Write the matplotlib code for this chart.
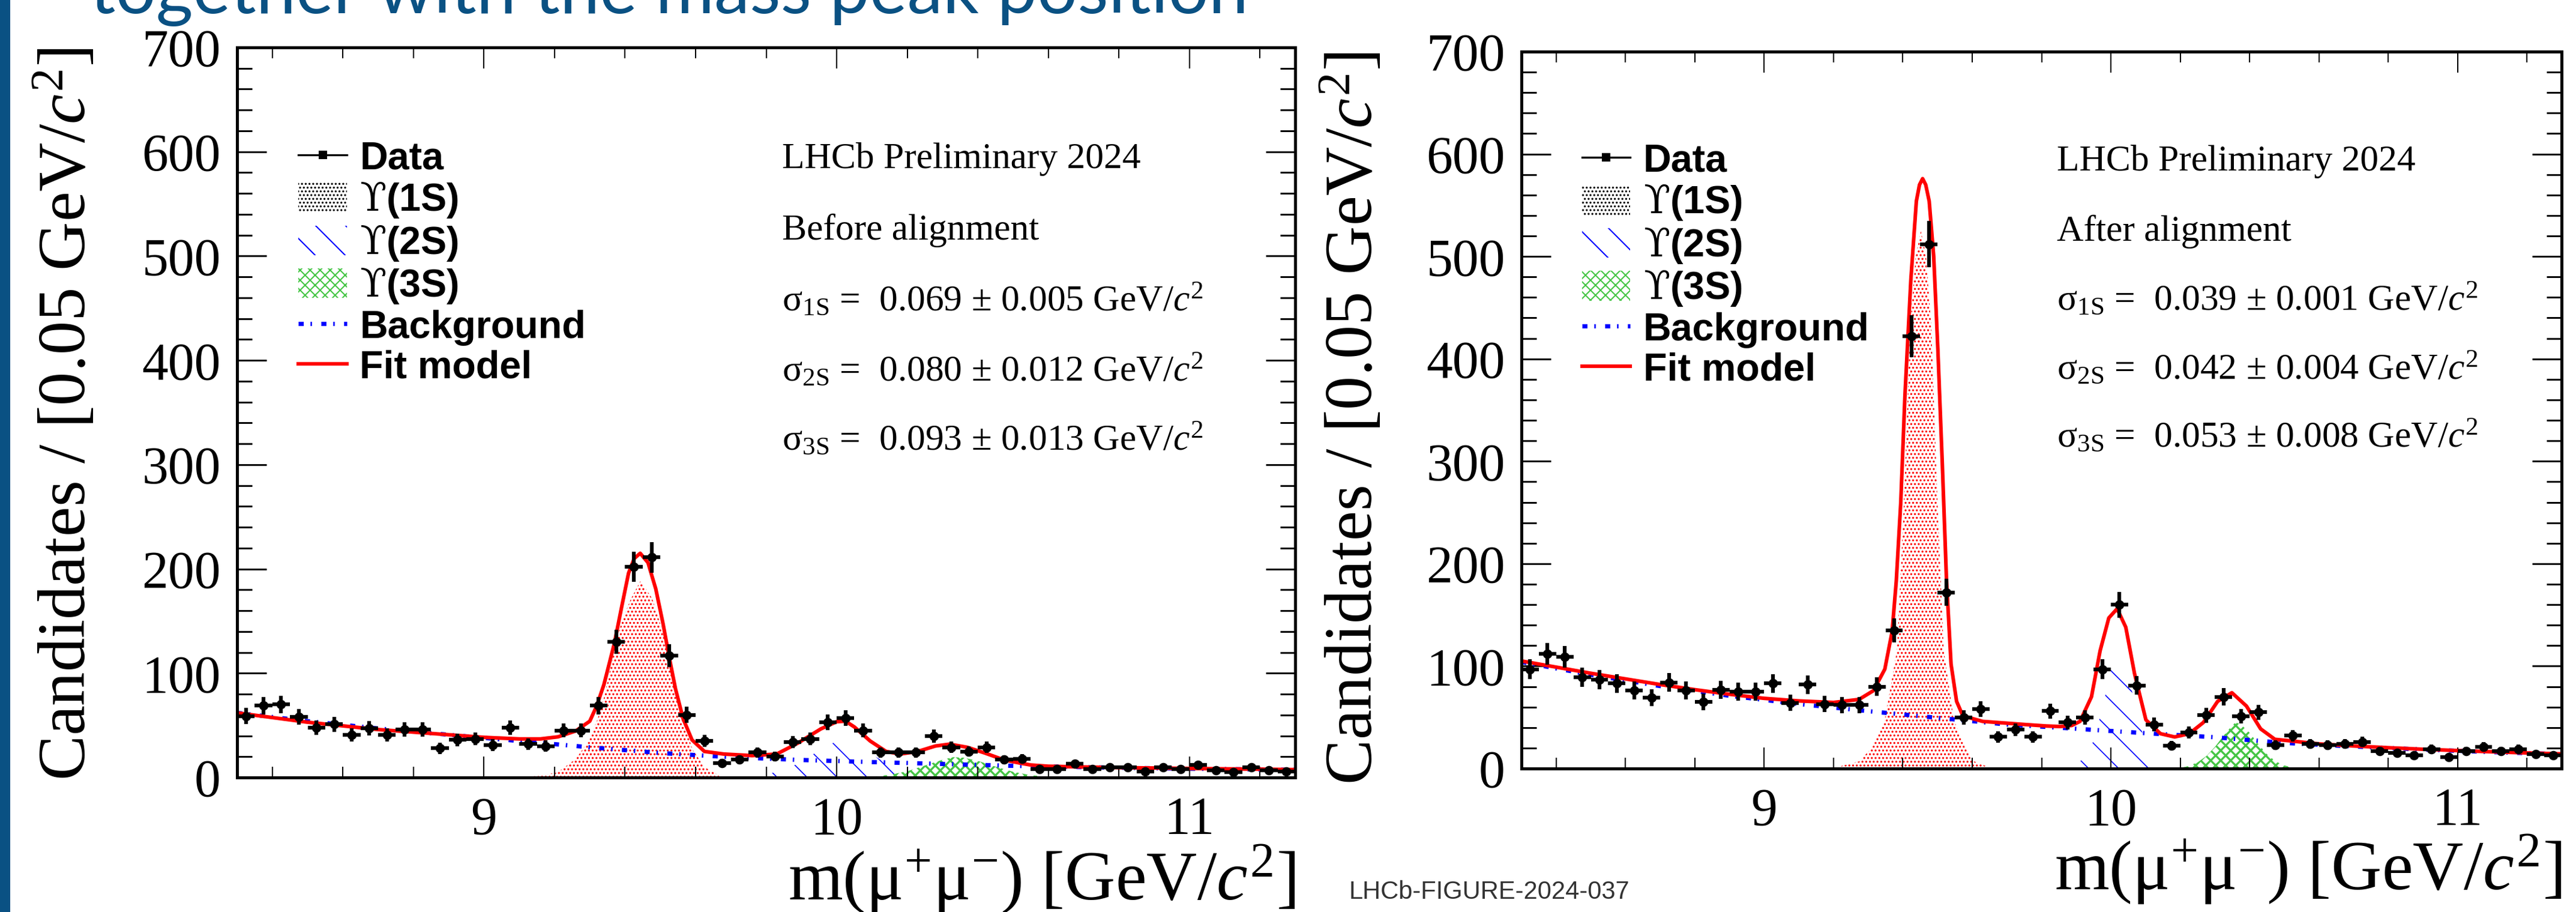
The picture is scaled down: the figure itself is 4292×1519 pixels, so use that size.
import numpy as np
import matplotlib
matplotlib.use('Agg')
import matplotlib.pyplot as plt
from matplotlib.lines import Line2D
from matplotlib.patches import Patch, Rectangle
from matplotlib.ticker import MultipleLocator

plt.rcParams['font.family'] = 'Liberation Serif'
plt.rcParams['mathtext.fontset'] = 'custom'
plt.rcParams['mathtext.rm'] = 'Liberation Serif'
plt.rcParams['mathtext.it'] = 'Liberation Serif:italic'
plt.rcParams['hatch.linewidth'] = 1.0

# ---- data ----
bin_centres = 8.3 + 0.05 * (np.arange(60) + 0.5)

counts_before = [59, 69, 70, 58, 48, 51, 41, 47, 41, 46,
                 46, 28, 36, 37, 31, 48, 32, 30, 45, 45,
                 69, 130, 202, 211, 117, 60, 35, 14, 17, 24,
                 20, 34, 37, 53, 57, 45, 24, 24, 24, 40,
                 29, 25, 29, 17, 18, 8, 8, 13, 8, 10,
                 10, 6, 10, 8, 12, 7, 5, 10, 7, 6]

counts_after = [97, 112, 109, 89, 87, 83, 76, 69, 84, 76,
                65, 77, 75, 75, 83, 64, 82, 63, 62, 62,
                80, 135, 422, 512, 172, 50, 58, 31, 38, 31,
                56, 45, 50, 97, 160, 81, 43, 22, 35, 52,
                70, 51, 55, 23, 32, 24, 23, 24, 26, 17,
                15, 13, 19, 11, 17, 21, 17, 19, 14, 13]

# fit model (before alignment)
fit_before_x = [8.30, 8.40, 8.50, 8.60, 8.70, 8.80, 8.90, 9.00, 9.10, 9.16,
                9.21, 9.26, 9.30, 9.32, 9.34, 9.37, 9.39, 9.41, 9.426, 9.443,
                9.465, 9.487, 9.508, 9.526, 9.543, 9.565, 9.59, 9.625, 9.68, 9.76,
                9.83, 9.89, 9.955, 10.0, 10.025, 10.05, 10.095, 10.14, 10.18, 10.23,
                10.28, 10.32, 10.37, 10.42, 10.475, 10.52, 10.55, 10.6, 10.7, 10.8,
                10.9, 11.0, 11.1, 11.2, 11.3]
fit_before_y = [62, 57.5, 53, 49.5, 46, 43.5, 41, 38.5, 37, 37,
                39, 44.6, 54, 69, 89, 129, 163, 196, 210, 215,
                206, 181, 147, 114, 85, 56, 36, 25, 22.5, 21,
                22.5, 33, 46.6, 53.5, 54, 48.5, 35, 25, 22.5, 25,
                30.2, 32, 29, 23.5, 16.8, 13.8, 12, 10.8, 10.1, 9.5,
                9.1, 8.7, 8.3, 8.0, 7.6]
bkg_before_x = [8.3, 8.5, 8.7, 8.9, 9.1, 9.3, 9.5, 9.7, 9.9, 10.1, 10.3, 10.5, 10.7, 10.9, 11.1, 11.3]
bkg_before_y = [62, 54, 47, 41, 35, 29, 23.5, 19.5, 16.8, 14.8, 13, 11.2, 9.9, 8.9, 8.1, 7.4]
s1_before_x = [9.0, 9.1, 9.157, 9.209, 9.261, 9.296, 9.322, 9.339, 9.352, 9.37, 9.391, 9.417,
               9.444, 9.477, 9.504, 9.521, 9.538, 9.556, 9.573, 9.591, 9.625, 9.669, 9.7]
s1_before_y = [0.2, 0.8, 1.5, 5, 18, 35, 56, 75, 94.6, 123.5, 150.4, 171.6,
               188.5, 171.6, 143, 120, 85, 66, 46.6, 27, 10, 1.4, 0]
s2_before_x = [9.75, 9.8, 9.85, 9.9, 9.95, 10.0, 10.02, 10.05, 10.1, 10.15, 10.2, 10.25, 10.3]
s2_before_y = [1, 3, 7, 15, 26, 35, 36, 33, 22, 12, 5, 1.5, 0.5]
s3_before_x = [10.1, 10.15, 10.2, 10.25, 10.3, 10.33, 10.36, 10.4, 10.45, 10.5, 10.55, 10.6]
s3_before_y = [0.8, 2.5, 6, 11.5, 17, 19.5, 19, 16, 10.5, 5.5, 2.2, 0.8]

# fit model (after alignment)
fit_after_x = [8.30, 8.40, 8.50, 8.60, 8.70, 8.80, 8.90, 9.00, 9.10, 9.20,
               9.274, 9.315, 9.348, 9.369, 9.381, 9.394, 9.406, 9.423, 9.439, 9.448,
               9.457, 9.466, 9.476, 9.489, 9.501, 9.514, 9.526, 9.539, 9.555, 9.571,
               9.588, 9.63, 9.69, 9.75, 9.814, 9.853, 9.887, 9.911, 9.944, 9.969,
               9.994, 10.018, 10.043, 10.068, 10.101, 10.143, 10.184, 10.226, 10.267, 10.308,
               10.349, 10.391, 10.432, 10.473, 10.518, 10.6, 10.7, 10.8, 10.9, 11.0,
               11.1, 11.2, 11.3]
fit_after_y = [105, 99, 93, 87.5, 82, 77, 72.5, 68.5, 66, 64.5,
               67.5, 76, 97, 133.6, 183, 260, 364, 477, 554, 570,
               576, 570, 554, 500, 409, 296, 183, 102, 65.6, 53,
               50, 46, 44.5, 43, 41.5, 41, 42, 46, 70, 115,
               147, 156, 138, 93, 47.5, 34, 30.8, 34, 45, 65.6,
               74, 61, 38.7, 28.5, 27, 24, 22, 20.3, 18.8, 17.5,
               16.3, 15.2, 14.3]
bkg_after_x = [8.3, 8.5, 8.7, 8.9, 9.1, 9.3, 9.5, 9.7, 9.9, 10.1, 10.3, 10.5, 10.7, 10.9, 11.1, 11.3]
bkg_after_y = [104, 91.5, 80.5, 71, 63, 56, 49.5, 43, 38.8, 34.5, 30.5, 25, 21.5, 18.5, 16, 14]
s1_after_x = [9.2, 9.274, 9.31, 9.348, 9.383, 9.402, 9.421, 9.437, 9.452, 9.467, 9.482,
              9.501, 9.518, 9.547, 9.58, 9.605, 9.65, 9.7]
s1_after_y = [0.5, 7, 20, 47.5, 115.5, 251, 432, 500, 525, 500, 432,
              251, 115.5, 47.5, 20, 7, 1, 0]
s2_after_x = [9.875, 9.9, 9.925, 9.95, 9.975, 10.0, 10.015, 10.03, 10.05, 10.075, 10.1, 10.125, 10.15, 10.175]
s2_after_y = [1, 4, 11, 27, 58, 97, 116, 113, 92, 54, 24, 8.5, 2.5, 0.5]
s3_after_x = [10.2, 10.225, 10.25, 10.275, 10.3, 10.325, 10.35, 10.36, 10.375, 10.4,
              10.425, 10.45, 10.475, 10.5, 10.525, 10.55]
s3_after_y = [0.5, 2.5, 6, 12, 21, 32, 42, 45, 43, 35, 24, 14, 7, 3, 1, 0]

sigma_before = ['0.069 ± 0.005', '0.080 ± 0.012', '0.093 ± 0.013']
sigma_after = ['0.039 ± 0.001', '0.042 ± 0.004', '0.053 ± 0.008']

slide_blue = '#0a5183'
green3s = '#45c545'
bkg_style = (0, (1.2, 1.6, 0.35, 2.2))

fig = plt.figure(figsize=(4292 / 150, 1519 / 150), dpi=150)
fig.add_artist(Rectangle((0, 0), 17 / 4292, 1, transform=fig.transFigure, color=slide_blue, lw=0))
fig.text(150 / 4292, 1 - 22 / 1519, 'together with the mass peak position', color=slide_blue,
         fontsize=57, family='Lato', va='baseline')
fig.text(2248 / 4292, 1 - 1497 / 1519, 'LHCb-FIGURE-2024-037', color='#333333',
         fontsize=20, family='Liberation Sans', va='baseline')


def hatched(ax, x, y, color, hatch, hlw):
    with plt.rc_context({'hatch.linewidth': hlw}):
        c = ax.fill_between(x, 0, y, facecolor='none', edgecolor=color, hatch=hatch, lw=0)
    if hasattr(c, 'set_hatch_linewidth'):
        c.set_hatch_linewidth(hlw)
    return c


def hatch_patch(color, hatch, hlw):
    with plt.rc_context({'hatch.linewidth': hlw}):
        p = Patch(facecolor='white', edgecolor=color, hatch=hatch, lw=0)
    if hasattr(p, 'set_hatch_linewidth'):
        p.set_hatch_linewidth(hlw)
    return p


def draw_panel(ax, counts, fit, bkg, s1, s2, s3, stage, sigmas):
    hatched(ax, s1[0], s1[1], 'red', '....', 1.0)
    hatched(ax, s2[0], s2[1], 'blue', '\\', 0.8)
    hatched(ax, s3[0], s3[1], green3s, 'xxx', 1.6)
    ax.plot(bkg[0], bkg[1], color='blue', lw=3.4, ls=bkg_style, dash_capstyle='butt')
    ax.plot(fit[0], fit[1], color='red', lw=2.9)
    counts = np.array(counts, dtype=float)
    ax.errorbar(bin_centres, counts, xerr=0.025, yerr=np.sqrt(counts), fmt='o', color='black',
                ms=6.5, elinewidth=3.0, capsize=0)

    ax.set_xlim(8.3, 11.3)
    ax.set_ylim(0, 700)
    ax.xaxis.set_major_locator(MultipleLocator(1))
    ax.xaxis.set_minor_locator(MultipleLocator(0.2))
    ax.yaxis.set_major_locator(MultipleLocator(100))
    ax.yaxis.set_minor_locator(MultipleLocator(20))
    ax.tick_params(which='both', direction='in', top=True, right=True, labelsize=42)
    ax.tick_params(axis='x', which='major', length=17, width=1.0, pad=15)
    ax.tick_params(axis='x', which='minor', length=8.6, width=1.0)
    ax.tick_params(axis='y', which='major', length=23.5, width=1.4, pad=13)
    ax.tick_params(axis='y', which='minor', length=12, width=1.4)
    for sp in ax.spines.values():
        sp.set_linewidth(2.4)

    ax.set_ylabel(r'Candidates / [0.05 GeV/$c^{2}$]', fontsize=54, loc='top')
    ax.yaxis.set_label_coords(-0.13, 1.0)
    ax.set_xlabel(r'm(μ$^{+}$μ$^{-}$) [GeV/$c^{2}$]', fontsize=56, loc='right')
    ax.xaxis.set_label_coords(1.0, -0.09)

    handles = [
        Line2D([], [], color='black', lw=1.6, marker='s', ms=6),
        hatch_patch('black', '....', 1.0),
        hatch_patch('blue', '\\', 0.8),
        hatch_patch(green3s, 'xxx', 1.6),
        Line2D([], [], color='blue', lw=3.4, ls=bkg_style, dash_capstyle='butt'),
        Line2D([], [], color='red', lw=2.9),
    ]
    labels = ['Data', r'$\mathrm{ϒ}$(1S)', r'$\mathrm{ϒ}$(2S)', r'$\mathrm{ϒ}$(3S)',
              'Background', 'Fit model']
    leg = ax.legend(handles, labels, loc='upper left', bbox_to_anchor=(0.058, 0.872),
                    frameon=False, borderaxespad=0, borderpad=0, handlelength=1.25,
                    handleheight=0.8, handletextpad=0.33, labelspacing=0.1,
                    prop={'family': 'Liberation Sans', 'weight': 'bold', 'size': 31})
    for t in leg.get_texts():
        t.set_math_fontfamily('dejavuserif')

    ys = [0.847, 0.749, 0.653, 0.557, 0.462]
    ax.text(0.515, ys[0], 'LHCb Preliminary 2024', transform=ax.transAxes, va='center', fontsize=29.5)
    ax.text(0.515, ys[1], stage, transform=ax.transAxes, va='center', fontsize=29.5)
    for k, (name, val) in enumerate(zip(['1S', '2S', '3S'], sigmas)):
        ax.text(0.515, ys[k + 2], r'$\mathrm{σ_{%s}}$ =  %s GeV/$c^{2}$' % (name, val),
                transform=ax.transAxes, va='center', fontsize=29.5)


ax1 = fig.add_axes([395 / 4292, 1 - 1295 / 1519, (2158 - 395) / 4292, (1295 - 79) / 1519])
ax2 = fig.add_axes([2535 / 4292, 1 - 1280 / 1519, (4268 - 2535) / 4292, (1280 - 86) / 1519])

draw_panel(ax1, counts_before, (fit_before_x, fit_before_y), (bkg_before_x, bkg_before_y),
           (s1_before_x, s1_before_y), (s2_before_x, s2_before_y), (s3_before_x, s3_before_y),
           'Before alignment', sigma_before)
draw_panel(ax2, counts_after, (fit_after_x, fit_after_y), (bkg_after_x, bkg_after_y),
           (s1_after_x, s1_after_y), (s2_after_x, s2_after_y), (s3_after_x, s3_after_y),
           'After alignment', sigma_after)

fig.savefig('out.png', dpi=150)
